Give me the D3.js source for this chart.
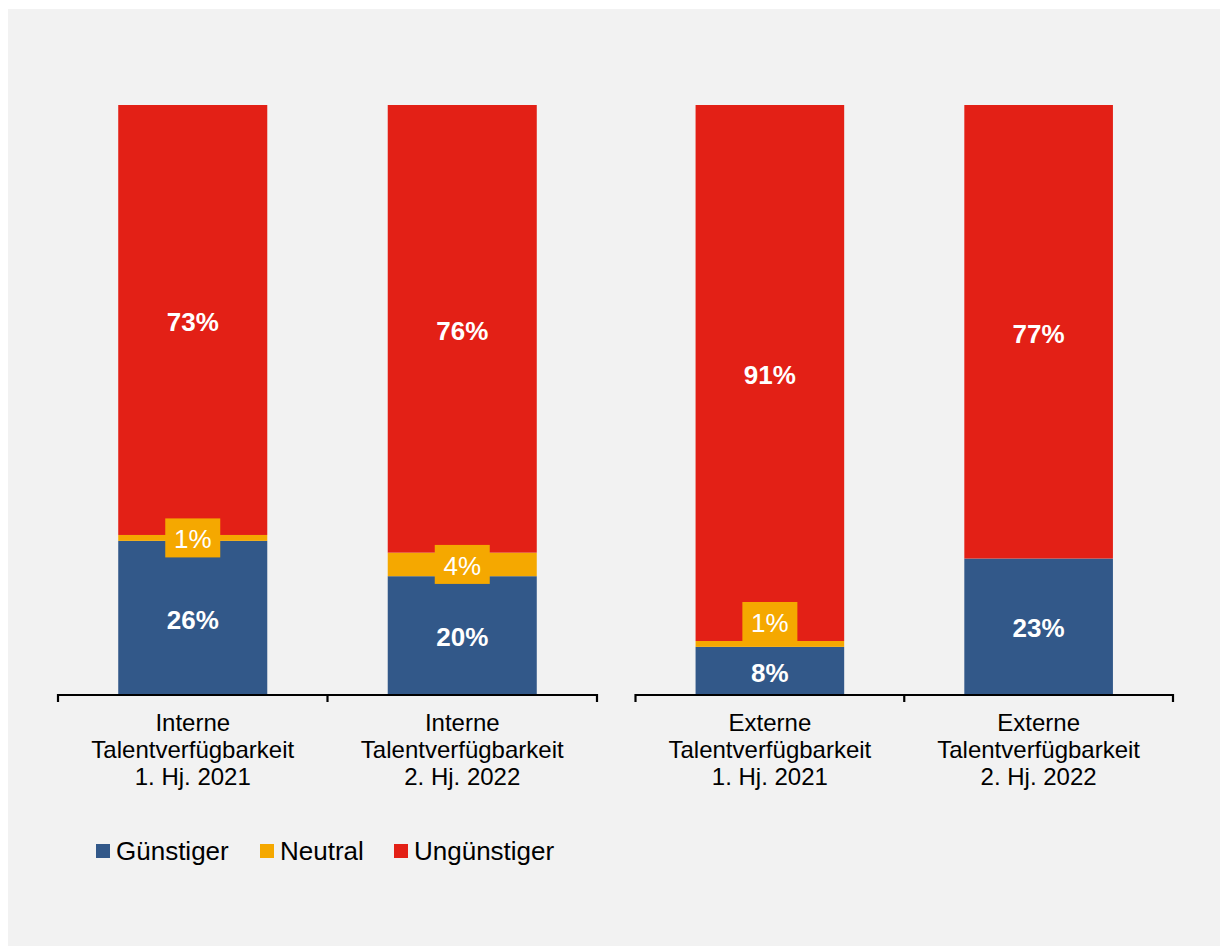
<!DOCTYPE html>
<html>
<head>
<meta charset="utf-8">
<script src="https://cdn.jsdelivr.net/npm/d3@7"></script>
<style>
  html, body { margin: 0; padding: 0; background: #ffffff; }
  svg { display: block; }
  text { font-family: "Liberation Sans", Arial, sans-serif; }
</style>
</head>
<body>
<svg id="chart" width="1220" height="946"></svg>
<script>
// Category labels (one entry per line) and which panel each bar belongs to
const categoryLines = [
  ["Interne", "Talentverfügbarkeit", "1. Hj. 2021"],
  ["Interne", "Talentverfügbarkeit", "2. Hj. 2022"],
  ["Externe", "Talentverfügbarkeit", "1. Hj. 2021"],
  ["Externe", "Talentverfügbarkeit", "2. Hj. 2022"]
];
const categoryPanel = [0, 0, 1, 1];

// Shares in percent
const guenstiger   = [26, 20, 8, 23];
const neutral      = [1, 4, 1, 0];
const unguenstiger = [73, 76, 91, 77];

const seriesNames = ["Günstiger", "Neutral", "Ungünstiger"];
const seriesColors = ["#325889", "#F5A800", "#E32016"];

const svg = d3.select("#chart");
const W = 1220, H = 946;

// light grey chart area
svg.append("rect").attr("x", 8).attr("y", 9).attr("width", W - 8).attr("height", H - 9)
  .attr("fill", "#F2F2F2");

const y = d3.scaleLinear().domain([0, 100]).range([694, 105]);

const panelRanges = [[58, 597], [635.5, 1173]];
const ids = categoryLines.map((_, i) => i);

const panels = panelRanges.map((r, p) => {
  const dom = ids.filter(i => categoryPanel[i] === p);
  return d3.scaleBand().domain(dom).range(r).padding(0);
});
const barRatio = 0.553;

const rows = ids.map(i => ({
  i,
  values: [guenstiger[i], neutral[i], unguenstiger[i]]
}));

const stack = d3.stack().keys([0, 1, 2]).value((d, k) => d.values[k]);
const layers = stack(rows);

function barX(i) {
  const xs = panels[categoryPanel[i]];
  const bw = xs.bandwidth() * barRatio;
  return xs(i) + (xs.bandwidth() - bw) / 2;
}
function barW(i) {
  return panels[categoryPanel[i]].bandwidth() * barRatio;
}
function barCX(i) {
  const xs = panels[categoryPanel[i]];
  return xs(i) + xs.bandwidth() / 2;
}

// stacked bars
layers.forEach((layer, k) => {
  svg.append("g").selectAll("rect")
    .data(layer.filter(d => d[1] > d[0]))
    .join("rect")
    .attr("x", d => barX(d.data.i))
    .attr("width", d => barW(d.data.i))
    .attr("y", d => y(d[1]))
    .attr("height", d => y(d[0]) - y(d[1]))
    .attr("fill", seriesColors[k]);
});

// axes: baseline with ticks at category boundaries
panels.forEach(xs => {
  const [x0, x1] = xs.range();
  const g = svg.append("g");
  const bounds = xs.domain().map(d => xs(d)).concat([x1]);
  g.append("line").attr("x1", x0).attr("x2", x1).attr("y1", 695).attr("y2", 695)
    .attr("stroke", "#000").attr("stroke-width", 2.2);
  g.selectAll("line.tick").data(bounds).join("line").attr("class", "tick")
    .attr("x1", d => d).attr("x2", d => d).attr("y1", 694).attr("y2", 702)
    .attr("stroke", "#000").attr("stroke-width", 2.2);
});

// category labels
ids.forEach(i => {
  const t = svg.append("text")
    .attr("x", barCX(i)).attr("y", 731)
    .attr("text-anchor", "middle")
    .attr("font-size", 24).attr("fill", "#000");
  categoryLines[i].forEach((line, li) => {
    t.append("tspan").attr("x", barCX(i)).attr("dy", li === 0 ? 0 : 27).text(line);
  });
});

// value labels for Günstiger and Ungünstiger
const labelFont = 26;
[0, 2].forEach(k => {
  layers[k].filter(d => d[1] > d[0]).forEach(d => {
    const cy = (y(d[0]) + y(d[1])) / 2;
    svg.append("text")
      .attr("x", barCX(d.data.i)).attr("y", cy)
      .attr("dy", "0.43em")
      .attr("text-anchor", "middle")
      .attr("font-size", labelFont).attr("font-weight", "bold")
      .attr("fill", "#fff")
      .text(d.data.values[k] + "%");
  });
});

// Neutral labels sit in an orange box; moved above the segment when
// the box would run into the Günstiger label below it
const boxW = 55, boxH = 39;
layers[1].filter(d => d[1] > d[0]).forEach(d => {
  const i = d.data.i;
  const segCy = (y(d[0]) + y(d[1])) / 2;
  const below = layers[0][i];
  const belowLabelTop = (y(below[0]) + y(below[1])) / 2 - 11;
  let boxY = segCy - boxH / 2;
  if (boxY + boxH > belowLabelTop) boxY = y(d[1]) - boxH;
  svg.append("rect")
    .attr("x", barCX(i) - boxW / 2).attr("y", boxY)
    .attr("width", boxW).attr("height", boxH)
    .attr("fill", seriesColors[1]);
  svg.append("text")
    .attr("x", barCX(i)).attr("y", boxY + boxH / 2)
    .attr("dy", "0.4em")
    .attr("text-anchor", "middle")
    .attr("font-size", labelFont)
    .attr("fill", "#fff")
    .text(d.data.values[1] + "%");
});

// legend
const legendX = [96, 260, 394];
seriesNames.forEach((name, k) => {
  const g = svg.append("g").attr("transform", `translate(${legendX[k]},844)`);
  g.append("rect").attr("width", 14).attr("height", 14).attr("fill", seriesColors[k]);
  g.append("text").attr("x", 20).attr("y", 15.5)
    .attr("font-size", 26).attr("fill", "#000").text(name);
});
</script>
</body>
</html>
